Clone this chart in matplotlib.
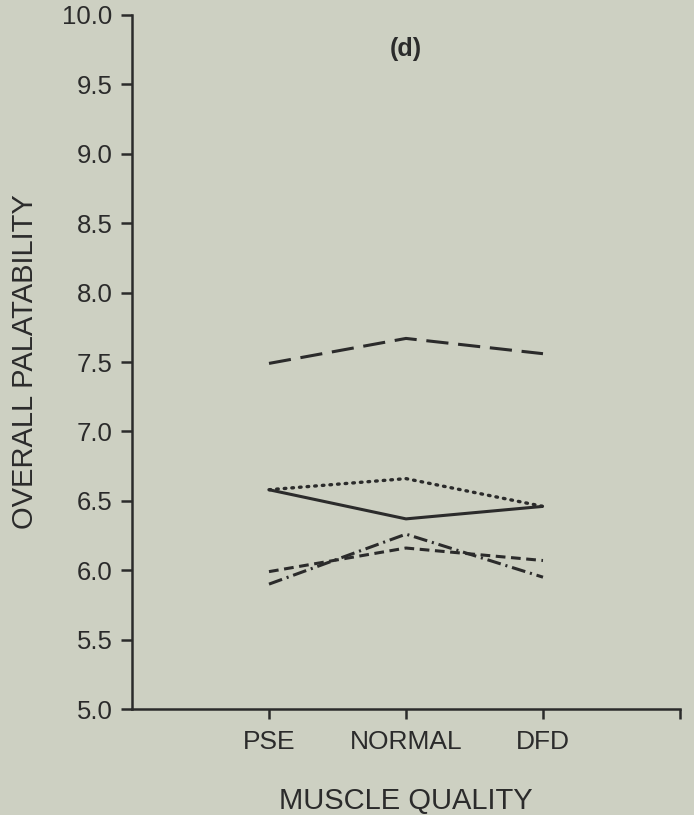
import matplotlib
matplotlib.use("Agg")
import matplotlib.pyplot as plt

# muscle quality groups and overall palatability means
categories = ["PSE", "NORMAL", "DFD"]
long_dash = [7.49, 7.67, 7.56]
dotted = [6.58, 6.66, 6.46]
solid = [6.58, 6.37, 6.46]
dash_dot = [5.90, 6.26, 5.95]
short_dash = [5.99, 6.16, 6.07]

BG = "#cdd0c2"
INK = "#2b2b2b"

plt.rcParams["font.family"] = ["Liberation Sans", "DejaVu Sans"]
plt.rcParams["lines.scale_dashes"] = False

fig = plt.figure(figsize=(6.94, 8.15), dpi=100, facecolor=BG)
ax = fig.add_axes([0.1902, 0.130, 0.7896, 0.8516])
ax.set_facecolor(BG)

x = [1, 2, 3]
lw = 2.2
ax.plot(x, long_dash, color=INK, lw=lw, dashes=(16, 7))
ax.plot(x, dotted, color=INK, lw=2.4, dashes=(1.2, 4.3), dash_capstyle="round")
ax.plot(x, solid, color=INK, lw=lw, solid_capstyle="butt")
ax.plot(x, dash_dot, color=INK, lw=lw, dashes=(10, 3.5, 1.5, 3.5))
ax.plot(x, short_dash, color=INK, lw=lw, dashes=(7, 4))

ax.set_xlim(0, 4)
ax.set_ylim(5.0, 10.0)
ax.set_yticks([5.0 + 0.5 * i for i in range(11)])
ax.set_yticklabels(["%.1f" % (5.0 + 0.5 * i) for i in range(11)])
ax.set_xticks([1, 2, 3, 4])
ax.set_xticklabels(categories + [""])

for side in ["top", "right"]:
    ax.spines[side].set_visible(False)
for side in ["left", "bottom"]:
    ax.spines[side].set_color(INK)
    ax.spines[side].set_linewidth(1.8)

ax.tick_params(axis="y", direction="out", length=8, width=1.8, color=INK,
               labelsize=18.5, labelcolor=INK, pad=6)
ax.tick_params(axis="x", direction="out", length=7, width=1.8, color=INK,
               labelsize=19, labelcolor=INK, pad=8)

ax.set_ylabel("OVERALL PALATABILITY", fontsize=21, color=INK)
ax.set_xlabel("MUSCLE QUALITY", fontsize=21, color=INK)
ax.xaxis.set_label_coords(0.5, -0.112)
ax.yaxis.set_label_coords(-0.17, 0.5)

ax.text(2, 9.755, "(d)", ha="center", va="center", fontsize=18,
        fontweight="bold", color=INK)

fig.savefig("out.png", dpi=100, facecolor=BG)
